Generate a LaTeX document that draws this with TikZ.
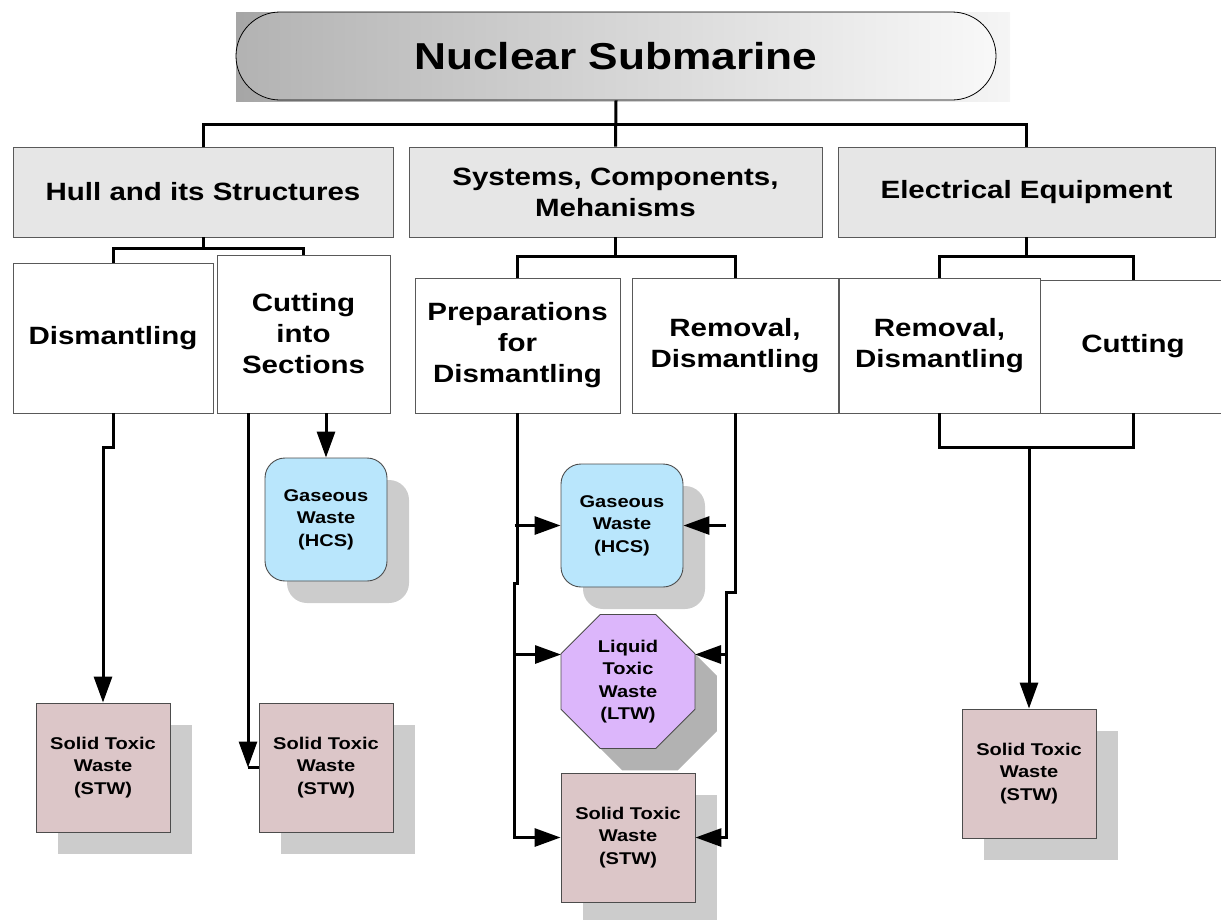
\documentclass[tikz,border=0pt]{standalone}
\usepackage{fontspec}
\setmainfont{Liberation Sans}[FakeStretch=1.18]
\usepackage{tikz}
\usetikzlibrary{shapes,arrows.meta,shadows,calc}

\definecolor{stwfill}{RGB}{220,198,200}
\definecolor{gasfill}{RGB}{185,230,252}
\definecolor{ltwfill}{RGB}{220,182,251}
\definecolor{shadowgray}{RGB}{204,204,204}
\definecolor{catfill}{RGB}{230,230,230}

\begin{document}
\begin{tikzpicture}[x=1pt,y=-1pt,
		catbox/.style={draw=black!65, line width=0.9pt, fill=catfill, inner sep=0pt, align=center, font=\bfseries\fontsize{25}{31}\selectfont},
		workbox/.style={catbox, fill=white},
		waste/.style={draw=black!70, line width=0.9pt, inner sep=0pt, align=center, minimum width=134pt, minimum height=129pt, font=\bfseries\fontsize{17}{22.5}\selectfont},
		shadowed/.style={general shadow={fill=#1, shadow xshift=22pt, shadow yshift=-22pt}},
		shadowed/.default=shadowgray,
		conn/.style={line width=3pt},
		arr/.style={conn, -{Triangle[length=26pt,width=18pt]}}]
		\useasboundingbox (0,0) rectangle (1221,919);

		% title
		\shade[left color=gray!70, right color=gray!8] (236,12) rectangle (1010,101);
		\node[draw=black, line width=0.8pt, rounded rectangle, minimum width=760pt, minimum height=88pt, inner sep=0pt, left color=gray!60, right color=gray!5, font=\bfseries\fontsize{37.5}{40}\selectfont] (title) at (616,56) {Nuclear Submarine};

		% first level
		\node[catbox, minimum width=380pt, minimum height=90pt] (hull) at (203,192) {Hull and its Structures};
		\node[catbox, minimum width=413pt, minimum height=90pt] (sys) at (615.5,192) {Systems, Components,\\Mehanisms};
		\node[catbox, minimum width=377pt, minimum height=90pt] (elec) at (1026.5,192) {Electrical Equipment};

		% second level
		\node[workbox, minimum width=200pt, minimum height=150pt] (dism) at (113,338) {Dismantling};
		\node[workbox, minimum width=173pt, minimum height=158pt] (cut) at (303.5,334) {Cutting\\into\\Sections};
		\node[workbox, minimum width=205pt, minimum height=135pt] (prep) at (517.5,345.5) {Preparations\\for\\Dismantling};
		\node[workbox, minimum width=206pt, minimum height=135pt] (remsys) at (735,345.5) {Removal,\\Dismantling};
		\node[workbox, minimum width=201pt, minimum height=135pt] (remel) at (939.5,345.5) {Removal,\\Dismantling};
		\node[workbox, minimum width=186pt, minimum height=133pt] (cutel) at (1133,346.5) {Cutting};

		% waste
		\node[waste, shadowed, fill=gasfill, rounded corners=20pt, minimum width=122pt, minimum height=123pt] (gas1) at (326,519.5) {Gaseous\\Waste\\(HCS)};
		\node[waste, shadowed, fill=stwfill] (stw1) at (103,767.5) {Solid Toxic\\Waste\\(STW)};
		\node[waste, shadowed, fill=stwfill] (stw2) at (326,767.5) {Solid Toxic\\Waste\\(STW)};
		\node[waste, shadowed, fill=gasfill, rounded corners=20pt, minimum width=122pt, minimum height=123pt] (gas2) at (622,525.5) {Gaseous\\Waste\\(HCS)};
		\node[waste, shadowed=black!30, fill=ltwfill, regular polygon, regular polygon sides=8, minimum size=145pt] (ltw) at (628,681.5) {Liquid\\Toxic\\Waste\\(LTW)};
		\node[waste, shadowed, fill=stwfill] (stw3) at (628,837.5) {Solid Toxic\\Waste\\(STW)};
		\node[waste, shadowed, fill=stwfill] (stw4) at (1029,773.5) {Solid Toxic\\Waste\\(STW)};

		% helper points
		\coordinate (cutdrop) at (248,413);
		\coordinate (pbend) at (517.5,583);
		\coordinate (pline) at (514.5,583);
		\coordinate (rbend) at (735,592);
		\coordinate (rline) at (726,592);
		\coordinate (ltwwest) at ($(ltw.center)+(-67,-27)$);
		\coordinate (ltweast) at ($(ltw.center)+(67,-27)$);
		\coordinate (ebar) at (1030,447);

		% top level links
		\draw[conn] (title.south) -- (sys.north);
		\draw[conn] (hull.north) -- ++(0,-22) -| (elec.north);

		% hull
		\draw[conn] (hull.south) -- ++(0,11) -| (dism.north);
		\draw[conn] (hull.south) ++(0,11) -| (cut.north);
		\draw[arr] (dism.south) -- ++(0,34) -| (stw1.north);
		\draw[arr] (gas1.north |- cut.south) -- (gas1.north);
		\draw[arr] (cutdrop) -- (cutdrop |- stw2.west);
		\draw[conn] (cutdrop |- stw2.west) -- (stw2.west);

		% systems
		\draw[conn] (sys.south) -- ++(0,19) -| (prep.north);
		\draw[conn] (sys.south) ++(0,19) -| (remsys.north);
		\draw[arr] (prep.south) -- (pbend) -- (pline) |- (stw3.west);
		\draw[arr] (pline |- gas2.west) -- (gas2.west);
		\draw[arr] (pline |- ltwwest) -- (ltwwest);
		\draw[arr] (remsys.south) -- (rbend) -- (rline) |- (stw3.east);
		\draw[arr] (rline |- gas2.east) -- (gas2.east);
		\draw[arr] (rline |- ltweast) -- (ltweast);

		% electrical
		\draw[conn] (elec.south) -- ++(0,19) -| (remel.north);
		\draw[conn] (elec.south) ++(0,19) -| (cutel.north);
		\draw[conn] (remel.south) -- ++(0,34) -| (cutel.south);
		\draw[arr] (ebar -| stw4.north) -- (stw4.north);
	\end{tikzpicture}
\end{document}
